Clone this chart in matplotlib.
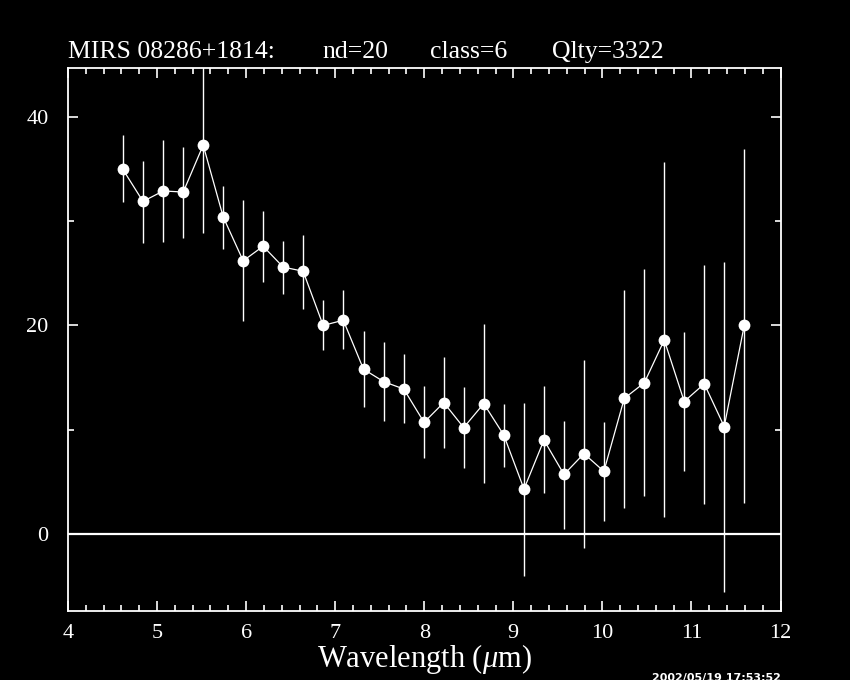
import numpy as np
import matplotlib
matplotlib.use('Agg')
import matplotlib.pyplot as plt
from matplotlib.ticker import MultipleLocator

plt.rcParams['font.family'] = ['Liberation Serif', 'DejaVu Serif']
plt.rcParams['mathtext.fontset'] = 'custom'
plt.rcParams['mathtext.rm'] = 'Liberation Serif'
plt.rcParams['mathtext.it'] = 'Liberation Serif:italic'

# spectrum
wavelength = [4.614, 4.842, 5.069, 5.294, 5.518, 5.743, 5.967, 6.191,
              6.416, 6.640, 6.865, 7.091, 7.318, 7.546, 7.770, 7.998,
              8.219, 8.443, 8.668, 8.892, 9.120, 9.344, 9.569, 9.793,
              10.017, 10.246, 10.471, 10.695, 10.919, 11.144, 11.368, 11.593]
flux = [35.0, 31.9, 32.9, 32.8, 37.3, 30.4, 26.2, 27.6,
        25.6, 25.2, 20.0, 20.5, 15.8, 14.6, 13.9, 10.7,
        12.6, 10.2, 12.5, 9.5, 4.3, 9.0, 5.7, 7.7,
        6.0, 13.0, 14.5, 18.6, 12.7, 14.4, 10.3, 20.0]
err_hi = [38.3, 35.8, 37.8, 37.1, 45.7, 33.4, 32.0, 31.0,
          28.1, 28.7, 22.4, 23.4, 19.5, 18.4, 17.3, 14.2,
          17.0, 14.1, 20.1, 12.5, 12.6, 14.2, 10.8, 16.7,
          10.7, 23.4, 25.4, 35.7, 19.4, 25.8, 26.1, 36.9]
err_lo = [31.8, 27.9, 28.0, 28.4, 28.9, 27.3, 20.4, 24.2,
          23.0, 21.6, 17.6, 17.7, 12.2, 10.8, 10.6, 7.3,
          8.2, 6.3, 4.9, 6.4, -4.0, 3.9, 0.5, -1.4,
          1.2, 2.5, 3.6, 1.6, 6.0, 2.9, -5.6, 3.0]

title_parts = ['MIRS 08286+1814:', 'nd=20', 'class=6', 'Qlty=3322']
title_x = [68, 322, 430, 552]
stamp = '2002/05/19 17:53:52'

fig = plt.figure(figsize=(8.5, 6.8), dpi=100, facecolor='black')
ax = fig.add_axes([68 / 850, 1 - 611 / 680, (780.5 - 68) / 850, (611 - 68) / 680])
ax.set_facecolor('black')

f = np.array(flux)
yerr = [f - np.array(err_lo), np.array(err_hi) - f]
ax.errorbar(wavelength, flux, yerr=yerr, fmt='o-', color='white', ecolor='white',
            lw=0.9, elinewidth=1.0, capsize=3, capthick=1.8, markersize=8.5,
            markeredgewidth=0)
ax.axhline(0, color='white', lw=1.6)

ax.set_xlim(4, 12)
ax.set_ylim(-7.4, 44.7)
ax.xaxis.set_major_locator(MultipleLocator(1))
ax.xaxis.set_minor_locator(MultipleLocator(0.2))
ax.yaxis.set_major_locator(MultipleLocator(20))
ax.yaxis.set_minor_locator(MultipleLocator(10))
ax.tick_params(which='both', direction='in', top=True, right=True, colors='white',
               labelsize=16)
ax.tick_params(which='major', length=7, width=1.2)
ax.tick_params(which='minor', length=4, width=1.2)
ax.tick_params(axis='x', which='major', pad=9)
ax.tick_params(axis='y', which='major', pad=14)
for s in ax.spines.values():
    s.set_color('white')
    s.set_linewidth(1.3)

ax.set_xlabel(r'Wavelength ($\mu$m)', color='white', fontsize=22, labelpad=0)

for t, x in zip(title_parts, title_x):
    fig.text(x / 850, 1 - 58 / 680, t, color='white', fontsize=18.5, ha='left',
             va='baseline')
fig.text(652 / 850, 1 - 673 / 680, stamp, color='white', fontsize=8,
         fontweight='bold', family='DejaVu Sans', ha='left', va='top')

fig.savefig('out.png', dpi=100, facecolor='black')
